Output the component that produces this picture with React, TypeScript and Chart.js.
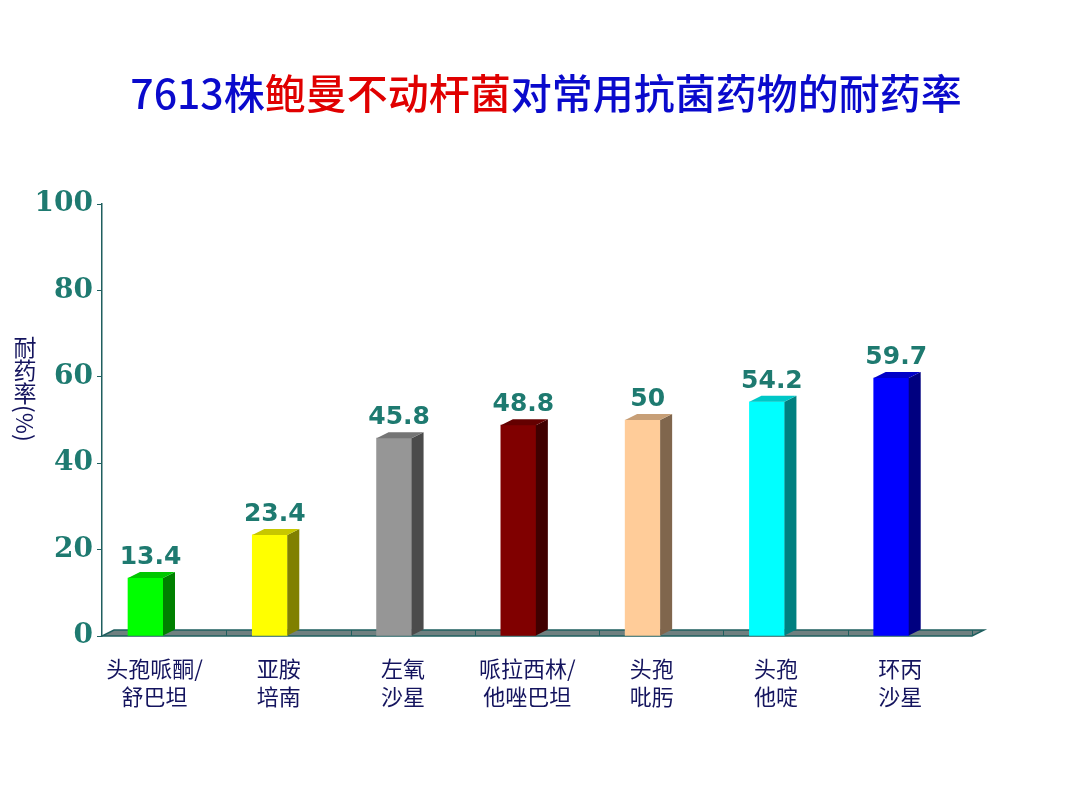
import React, { useEffect, useRef } from 'react';
import { Chart, registerables } from 'chart.js';

Chart.register(...registerables);

// ---------- data ----------
const categories: string[][] = [
  ['头孢哌酮/', '舒巴坦'],
  ['亚胺', '培南'],
  ['左氧', '沙星'],
  ['哌拉西林/', '他唑巴坦'],
  ['头孢', '吡肟'],
  ['头孢', '他啶'],
  ['环丙', '沙星'],
];
const resistance: number[] = [13.4, 23.4, 45.8, 48.8, 50, 54.2, 59.7];
const barColors: string[] = ['#00FF00', '#FFFF00', '#969696', '#800000', '#FFCC99', '#00FFFF', '#0000FF'];
const yTickValues: number[] = [0, 20, 40, 60, 80, 100];
const titleParts: { text: string; color: string }[] = [
  { text: '7613株', color: '#0A0ACC' },
  { text: '鲍曼不动杆菌', color: '#E00000' },
  { text: '对常用抗菌药物的耐药率', color: '#0A0ACC' },
];
const yTitleChars: string[] = ['耐', '药', '率'];
const yTitleUnit = '(%)';

// ---------- styles ----------
const TEAL = '#1E7A70';
const AXIS = '#1F5F5F';
const NAVY = '#14145E';
const DEPTH_X = 12;
const DEPTH_Y = -6;

function shade(hex: string, f: number): string {
  const n = parseInt(hex.slice(1), 16);
  const r = Math.round(((n >> 16) & 255) * f);
  const g = Math.round(((n >> 8) & 255) * f);
  const b = Math.round((n & 255) * f);
  return `rgb(${r},${g},${b})`;
}

const floorPlugin = {
  id: 'floor3d',
  beforeDatasetsDraw(chart: any) {
    const { ctx, chartArea, scales } = chart;
    const xs = scales.x;
    const y0 = scales.y.getPixelForValue(0);
    const left = chartArea.left;
    const right = chartArea.right;
    ctx.save();
    ctx.beginPath();
    ctx.moveTo(left, y0);
    ctx.lineTo(right, y0);
    ctx.lineTo(right + DEPTH_X, y0 + DEPTH_Y);
    ctx.lineTo(left + DEPTH_X, y0 + DEPTH_Y);
    ctx.closePath();
    ctx.fillStyle = '#6F8080';
    ctx.fill();
    ctx.strokeStyle = AXIS;
    ctx.lineWidth = 1.5;
    ctx.stroke();
    ctx.lineWidth = 1;
    for (let k = 1; k <= categories.length; k++) {
      const x = Math.round(xs.getPixelForValue(k - 0.35)) + 0.5;
      ctx.beginPath();
      ctx.moveTo(x, y0 + DEPTH_Y);
      ctx.lineTo(x, y0);
      ctx.stroke();
    }
    ctx.restore();
  },
};

const bars3dPlugin = {
  id: 'bars3d',
  afterDatasetsDraw(chart: any) {
    const { ctx } = chart;
    const meta = chart.getDatasetMeta(0);
    ctx.save();
    meta.data.forEach((el: any, i: number) => {
      const { x, y, base, width } = el.getProps(['x', 'y', 'base', 'width'], true);
      const l = x - width / 2;
      const r = x + width / 2;
      const c = barColors[i];
      // side
      ctx.beginPath();
      ctx.moveTo(r, y);
      ctx.lineTo(r + DEPTH_X, y + DEPTH_Y);
      ctx.lineTo(r + DEPTH_X, base + DEPTH_Y);
      ctx.lineTo(r, base);
      ctx.closePath();
      ctx.fillStyle = shade(c, 0.5);
      ctx.fill();
      // top
      ctx.beginPath();
      ctx.moveTo(l, y);
      ctx.lineTo(l + DEPTH_X, y + DEPTH_Y);
      ctx.lineTo(r + DEPTH_X, y + DEPTH_Y);
      ctx.lineTo(r, y);
      ctx.closePath();
      ctx.fillStyle = shade(c, 0.78);
      ctx.fill();
      // value label
      ctx.font = 'bold 25px "DejaVu Sans"';
      ctx.fillStyle = TEAL;
      ctx.textAlign = 'center';
      ctx.textBaseline = 'alphabetic';
      ctx.fillText(String(resistance[i]), x + 5, y - 14);
    });
    ctx.restore();
  },
};

const textPlugin = {
  id: 'texts',
  afterDraw(chart: any) {
    const { ctx } = chart;
    ctx.save();
    // title
    ctx.font = '500 41px "Noto Sans CJK SC"';
    ctx.textBaseline = 'middle';
    ctx.textAlign = 'left';
    const total = titleParts.reduce((s, p) => s + ctx.measureText(p.text).width, 0);
    let tx = 546 - total / 2;
    titleParts.forEach((p) => {
      ctx.fillStyle = p.color;
      ctx.fillText(p.text, tx, 93);
      tx += ctx.measureText(p.text).width;
    });
    // y axis title (vertical)
    ctx.font = '23px "Noto Sans CJK SC"';
    ctx.fillStyle = NAVY;
    ctx.textAlign = 'center';
    let ty = 347;
    yTitleChars.forEach((ch) => {
      ctx.fillText(ch, 25, ty);
      ty += 23;
    });
    ctx.translate(25, ty - 11);
    ctx.rotate(Math.PI / 2);
    ctx.textAlign = 'left';
    ctx.fillText(yTitleUnit, 0, 0);
    ctx.restore();
  },
};

export default function App() {
  const canvasRef = useRef<HTMLCanvasElement | null>(null);

  useEffect(() => {
    if (!canvasRef.current) return;
    const chart = new Chart(canvasRef.current, {
      type: 'bar',
      data: {
        datasets: [
          {
            data: resistance.map((v, i) => ({ x: i, y: v })),
            backgroundColor: barColors,
            borderWidth: 0,
            barThickness: 35,
          },
        ],
      },
      options: {
        responsive: false,
        animation: false,
        events: [],
        layout: { padding: { left: 0, top: 204, right: 108, bottom: 60 } },
        plugins: {
          legend: { display: false },
          title: { display: false },
          tooltip: { enabled: false },
        },
        scales: {
          x: {
            type: 'linear',
            min: -0.35,
            max: 6.65,
            offset: false,
            afterFit: (s: any) => {
              s.height = 114;
            },
            afterBuildTicks: (s: any) => {
              s.ticks = categories.map((_, i) => ({ value: i }));
            },
            grid: { display: false, offset: false },
            border: { display: false },
            ticks: {
              autoSkip: false,
              maxRotation: 0,
              minRotation: 0,
              padding: 10,
              labelOffset: 9,
              color: NAVY,
              font: { family: '"Noto Sans CJK SC"', size: 22, lineHeight: 1.29 },
              callback: (v: any) => categories[Number(v)] ?? '',
            },
          },
          y: {
            min: 0,
            max: 100,
            afterFit: (s: any) => {
              s.width = 102;
            },
            afterBuildTicks: (s: any) => {
              s.ticks = yTickValues.map((v) => ({ value: v }));
            },
            grid: {
              display: true,
              drawOnChartArea: false,
              drawTicks: true,
              tickLength: 5,
              color: AXIS,
            },
            border: { display: true, color: AXIS, width: 1.5 },
            ticks: {
              padding: 4,
              color: TEAL,
              font: { family: '"DejaVu Serif"', size: 28, weight: 'bold' },
            },
          },
        },
      },
      plugins: [floorPlugin, bars3dPlugin, textPlugin],
    });
    return () => chart.destroy();
  }, []);

  return (
    <div style={{ position: 'absolute', left: 0, top: 0, width: 1080, height: 810, background: '#fff' }}>
      <canvas ref={canvasRef} width={1080} height={810} />
    </div>
  );
}
